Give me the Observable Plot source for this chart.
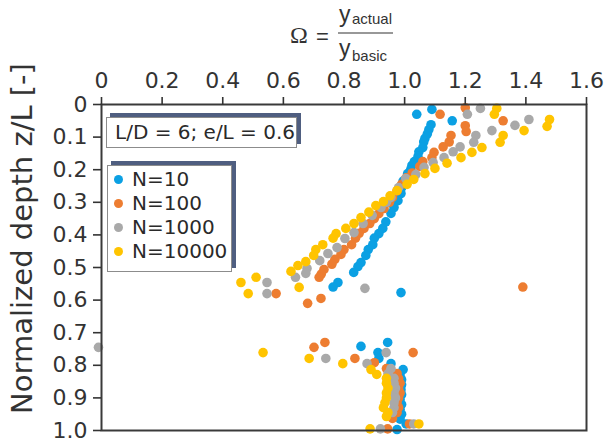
<!DOCTYPE html>
<html><head><meta charset="utf-8">
<script src="https://cdn.jsdelivr.net/npm/d3@7"></script>
<script src="https://cdn.jsdelivr.net/npm/@observablehq/plot@0.6"></script>
<style>
body{margin:0;background:#fff;font-family:"DejaVu Sans",sans-serif;}
#wrap{position:relative;width:605px;height:448px;overflow:hidden;}
#chart{position:absolute;left:0;top:0;}
.box{position:absolute;box-sizing:border-box;background:#fff;border:1px solid #8c8c8c;box-shadow:4px -4px 0 0 #4f5e80;color:#2a2a2a;}
.entry{position:absolute;left:0;height:24px;line-height:24px;font-size:20px;white-space:nowrap;}
.dot{position:absolute;width:9px;height:9px;border-radius:50%;top:7.5px;left:6px;}
</style></head><body>
<div id="wrap">
<div id="chart"></div>
<svg width="605" height="70" style="position:absolute;left:0;top:0" font-family="Liberation Sans, Arial, sans-serif" fill="#333">
  <text x="290" y="43" font-family="Liberation Serif, Times New Roman, serif" font-size="24">Ω</text>
  <text x="316" y="44" font-size="22">=</text>
  <text x="339" y="22" font-size="23">y</text>
  <text x="352" y="24" font-size="15">actual</text>
  <line x1="338" x2="393" y1="33" y2="33" stroke="#333" stroke-width="1.2"></line>
  <text x="339" y="56" font-size="23">y</text>
  <text x="352" y="61" font-size="15">basic</text>
</svg>
<div class="box" style="left:106px;top:117px;width:191px;height:31px;font-size:20px;line-height:29px;padding-left:8px;white-space:nowrap;">L/D = 6; e/L = 0.6</div>
<div class="box" id="legend" style="left:107px;top:165px;width:125px;height:107px;"></div>
</div>
<script>
// Tick values and labels
const xTicks = [0, 0.2, 0.4, 0.6, 0.8, 1.0, 1.2, 1.4, 1.6];
const xTickLabels = ["0", "0.2", "0.4", "0.6", "0.8", "1.0", "1.2", "1.4", "1.6"];
const yTicks = [0, 0.1, 0.2, 0.3, 0.4, 0.5, 0.6, 0.7, 0.8, 0.9, 1.0];
const yTickLabels = ["0", "0.1", "0.2", "0.3", "0.4", "0.5", "0.6", "0.7", "0.8", "0.9", "1.0"];

const seriesNames = ["N=10", "N=100", "N=1000", "N=10000"];
const seriesColors = ["#0ba0e3", "#ed7d31", "#a9a9a9", "#ffc400"];

// N=10
const n10Depth = [0.015,0.03,0.05,0.062,0.077,0.09,0.104,0.115,0.132,0.145,0.16,0.175,0.187,0.2,0.212,0.235,0.255,0.273,0.295,0.316,0.334,0.36,0.38,0.396,0.41,0.43,0.445,0.463,0.485,0.497,0.515,0.546,0.56,0.577,0.73,0.742,0.761,0.779,0.795,0.813,0.83,0.844,0.86,0.875,0.89,0.905,0.92,0.935,0.95,0.965,0.98,0.997];
const n10Omega = [1.09,1.04,1.157,1.087,1.08,1.075,1.067,1.063,1.06,1.047,1.044,1.032,1.024,1.02,1.01,0.995,0.99,0.988,0.978,0.965,0.955,0.938,0.928,0.915,0.9,0.895,0.88,0.872,0.856,0.846,0.832,0.78,0.764,0.988,0.944,0.856,0.912,0.915,0.955,0.995,0.985,0.99,0.99,0.988,0.99,0.985,0.99,0.985,0.99,0.985,1.005,0.975];
// N=100
const n100Depth = [0.01,0.03,0.05,0.065,0.083,0.095,0.115,0.13,0.147,0.163,0.175,0.19,0.21,0.225,0.245,0.265,0.285,0.3,0.319,0.335,0.35,0.365,0.38,0.395,0.41,0.43,0.445,0.46,0.475,0.49,0.506,0.52,0.53,0.56,0.58,0.595,0.61,0.73,0.745,0.761,0.779,0.792,0.81,0.825,0.84,0.855,0.87,0.885,0.9,0.915,0.93,0.945,0.963,0.98,0.995];
const n100Omega = [1.2,1.117,1.325,1.2,1.203,1.153,1.147,1.127,1.097,1.09,1.06,1.05,1.025,1.005,0.99,0.975,0.96,0.95,0.932,0.915,0.9,0.885,0.866,0.85,0.838,0.825,0.8,0.79,0.77,0.76,0.734,0.725,0.718,1.39,0.576,0.724,0.68,0.737,0.701,1.028,0.836,0.9,0.94,0.975,0.98,0.985,0.98,0.985,0.98,0.975,0.98,0.975,0.96,1.016,0.944];
// N=1000
const n1000Depth = [0.012,0.03,0.046,0.064,0.08,0.095,0.116,0.13,0.145,0.163,0.178,0.193,0.215,0.227,0.255,0.285,0.3,0.316,0.34,0.365,0.393,0.411,0.439,0.457,0.479,0.503,0.518,0.53,0.546,0.564,0.58,0.745,0.761,0.779,0.795,0.81,0.826,0.84,0.855,0.87,0.885,0.9,0.915,0.93,0.945,0.98,0.995];
const n1000Omega = [1.25,1.207,1.41,1.364,1.288,1.235,1.228,1.183,1.16,1.13,1.094,1.064,1.037,1.004,0.98,0.955,0.94,0.922,0.893,0.863,0.833,0.803,0.777,0.747,0.72,0.678,0.674,0.64,0.546,0.869,0.546,-0.01,0.939,0.74,0.876,0.955,0.945,0.965,0.965,0.97,0.965,0.97,0.965,0.965,0.96,1.03,0.92];
// N=10000
const n10000Depth = [0.012,0.03,0.046,0.067,0.08,0.095,0.116,0.132,0.147,0.163,0.18,0.196,0.212,0.23,0.245,0.264,0.28,0.298,0.31,0.33,0.347,0.365,0.38,0.396,0.41,0.43,0.445,0.463,0.482,0.494,0.512,0.53,0.546,0.561,0.58,0.761,0.779,0.795,0.813,0.828,0.84,0.855,0.87,0.885,0.9,0.915,0.93,0.945,0.957,0.98,0.995];
const n10000Omega = [1.304,1.296,1.478,1.47,1.394,1.325,1.315,1.255,1.222,1.186,1.14,1.1,1.067,1.03,1.008,0.975,0.952,0.93,0.905,0.882,0.856,0.833,0.806,0.774,0.764,0.73,0.707,0.7,0.674,0.648,0.625,0.51,0.46,0.652,0.484,0.533,0.685,0.796,0.889,0.908,0.94,0.94,0.945,0.94,0.94,0.935,0.93,0.945,0.94,1.047,0.886];

const allDepth = [n10Depth, n100Depth, n1000Depth, n10000Depth];
const allOmega = [n10Omega, n100Omega, n1000Omega, n10000Omega];
const rows = seriesNames.flatMap((name, k) =>
  allDepth[k].map((d, i) => ({series: name, depth: d, omega: allOmega[k][i]})));

const FONT = "DejaVu Sans, sans-serif";
const chart = Plot.plot({
  width: 605, height: 448,
  marginTop: 104, marginLeft: 101, marginRight: 19, marginBottom: 18,
  style: {fontFamily: FONT, color: "#333", background: "transparent"},
  x: {domain: [0, 1.6]},
  y: {domain: [0, 1], reverse: true},
  color: {domain: seriesNames, range: seriesColors},
  marks: [
    Plot.dot(rows, {x: "omega", y: "depth", fill: "series", r: 4.8, stroke: "none"}),
    Plot.frame({stroke: "#3a3a3a", strokeWidth: 2}),
    Plot.axisX(xTicks, {anchor: "top", tickSize: 8, tickPadding: 9, fontSize: 22,
      tickFormat: (d) => xTickLabels[xTicks.indexOf(d)], label: null, strokeWidth: 1.6}),
    Plot.axisY(yTicks, {anchor: "left", tickSize: 8, tickPadding: 6, fontSize: 22,
      tickFormat: (d) => yTickLabels[yTicks.indexOf(d)], label: null, strokeWidth: 1.6}),
    Plot.text(["Normalized depth z/L [-]"], {frameAnchor: "left", textAnchor: "middle", dx: -79, dy: -29, rotate: -90, fontSize: 29, fill: "#333"})
  ]
});
document.getElementById("chart").appendChild(chart);

const legend = document.getElementById("legend");
seriesNames.forEach((name, k) => {
  const e = document.createElement("div");
  e.className = "entry";
  e.style.top = (1 + 24 * k) + "px";
  e.style.paddingLeft = "24px";
  e.textContent = name;
  const dot = document.createElement("span");
  dot.className = "dot";
  dot.style.background = seriesColors[k];
  e.appendChild(dot);
  legend.appendChild(e);
});
</script>
</body></html>
